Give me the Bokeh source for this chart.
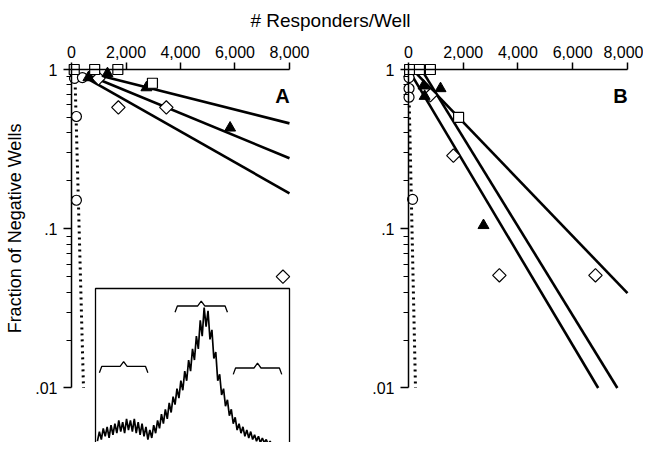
import numpy as np
from bokeh.plotting import figure
from bokeh.models import (Range1d, LinearScale, LinearAxis, LogAxis, FixedTicker,
                          NumeralTickFormatter, CustomJSTickFormatter, Label)
from bokeh.embed import file_html
from bokeh.resources import INLINE

# ---------------- data ----------------
x_ticks = [0, 2000, 4000, 6000, 8000]
y_major = [0.01, 0.1, 1.0]
y_minor = [0.02, 0.03, 0.04, 0.05, 0.06, 0.07, 0.08, 0.09,
           0.2, 0.3, 0.4, 0.5, 0.6, 0.7, 0.8, 0.9]

# Panel A
a_sq_x = [100, 850, 1700, 2970]
a_sq_y = [1.0, 1.0, 1.0, 0.82]
a_tri_x = [620, 1320, 2750, 5820]
a_tri_y = [0.89, 0.944, 0.77, 0.43]
a_dia_x = [990, 1720, 3480, 7760]
a_dia_y = [0.88, 0.578, 0.578, 0.050]
a_cir_x = [110, 400, 180, 180]
a_cir_y = [0.88, 0.89, 0.507, 0.151]
a_fit_x0 = [600, 600, 600]
a_fit_y0 = [0.959, 0.923, 0.874]
a_fit_x1 = [8000, 8000, 8000]
a_fit_y1 = [0.459, 0.277, 0.167]
a_dot_x = [120, 440]
a_dot_y = [1.0, 0.01]

# Panel B
b_sq_x = [40, 400, 800, 1830]
b_sq_y = [1.0, 1.0, 1.0, 0.50]
b_tri_x = [550, 590, 1170, 2740]
b_tri_y = [0.79, 0.68, 0.76, 0.105]
b_dia_x = [800, 1640, 3320, 6830]
b_dia_y = [0.69, 0.288, 0.051, 0.051]
b_cir_x = [20, 20, 20, 150]
b_cir_y = [0.89, 0.76, 0.67, 0.153]
b_fit_x0 = [275, 555, 77]
b_fit_y0 = [0.95, 0.95, 0.95]
b_fit_x1 = [8000, 7630, 6930]
b_fit_y1 = [0.0394, 0.01, 0.01]
b_dot_x = [0, 256]
b_dot_y = [1.0, 0.01]

# Inset (fluorescence histogram, channel 0-100, relative counts 0-100)
inset_channel = list(range(1, 95))
inset_counts = [4, 10, 5, 12, 7, 13, 6, 14, 8, 15, 9, 17, 10, 16, 9, 18, 11, 17, 10, 18,
                9, 16, 8, 15, 7, 13, 5, 11, 6, 14, 9, 17, 12, 21, 15, 24, 18, 28, 22, 32,
                27, 37, 31, 42, 36, 48, 42, 55, 48, 62, 55, 70, 62, 80, 70, 88, 76, 86, 68, 74,
                56, 60, 42, 46, 33, 37, 26, 30, 20, 24, 15, 19, 11, 15, 9, 13, 7, 11, 6, 10,
                5, 8, 4, 7, 3, 6, 3, 5, 2, 4, 1, 3, 1, 2]
br_left = [2, 41, 71]
br_right = [27, 68, 96]
br_end = [47, 85, 46]
br_line = [51, 89, 50]
br_peak = [54, 92, 53]

FONT = "Liberation Sans"

p = figure(width=643, height=442, output_backend="svg", toolbar_location=None,
           x_range=Range1d(-2606, 20992), y_range=Range1d(0.004547, 2.7127),
           y_axis_type="log", x_axis_location=None, y_axis_location=None,
           min_border=0, outline_line_color=None)
p.grid.visible = False
p.background_fill_color = "white"
p.border_fill_color = "white"

p.extra_x_ranges = {"B": Range1d(-14904, 8585), "ix": Range1d(-48.97, 282.47)}
p.extra_y_ranges = {"iy": Range1d(3.14, 281.13)}
p.extra_y_scales = {"iy": LinearScale()}

ytick_fmt = CustomJSTickFormatter(code="return tick >= 1 ? '1' : String(tick).replace(/^0/, '');")


def style(ax):
    ax.axis_line_color = "black"
    ax.axis_line_width = 1.5
    ax.major_tick_line_color = "black"
    ax.major_tick_line_width = 1.5
    ax.minor_tick_line_color = "black"
    ax.minor_tick_line_width = 1.2
    ax.major_tick_in = 0
    ax.minor_tick_in = 0
    ax.major_label_text_font = FONT
    ax.major_label_text_font_size = "16px"
    ax.major_label_text_color = "black"


for rng in ["default", "B"]:
    xa = LinearAxis(fixed_location=1.0, bounds=(0, 8000),
                    ticker=FixedTicker(ticks=x_ticks, minor_ticks=[]),
                    formatter=NumeralTickFormatter(format="0,0"))
    ya = LogAxis(fixed_location=0, bounds=(0.01, 1.0),
                 ticker=FixedTicker(ticks=y_major, minor_ticks=y_minor),
                 formatter=ytick_fmt)
    if rng == "B":
        xa.x_range_name = "B"
        ya.x_range_name = "B"
    style(xa)
    style(ya)
    xa.major_tick_out = 7
    xa.major_label_standoff = 5
    ya.major_tick_out = 8
    ya.minor_tick_out = 5
    ya.major_label_standoff = 6
    if rng == "default":
        ya.axis_label = "Fraction of Negative Wells"
        ya.axis_label_text_font = FONT
        ya.axis_label_text_font_size = "18px"
        ya.axis_label_text_font_style = "normal"
        ya.axis_label_text_color = "black"
        ya.axis_label_standoff = 7
    p.add_layout(xa, "above")
    p.add_layout(ya, "left")

# ---- inset ----
p.quad(left=[0], right=[100], bottom=[0], top=[100], x_range_name="ix", y_range_name="iy",
       fill_color="white", line_color="black", line_width=1.3)
p.line(inset_channel, inset_counts, x_range_name="ix", y_range_name="iy",
       line_color="black", line_width=1.7)
br_xs, br_ys = [], []
for l, r, e, ln, pk in zip(br_left, br_right, br_end, br_line, br_peak):
    m = (l + r) / 2
    br_xs.append([l, l + 1.2, m - 1.8, m, m + 1.8, r - 1.2, r])
    br_ys.append([e, ln, ln, pk, ln, ln, e])
p.multi_line(br_xs, br_ys, x_range_name="ix", y_range_name="iy",
             line_color="black", line_width=1.3)

# ---- panel glyphs ----
def panel(rname, dot_x, dot_y, fx0, fy0, fx1, fy1, sqx, sqy, trx, try_, dix, diy, cix, ciy):
    kw = {} if rname is None else {"x_range_name": rname}
    p.line(dot_x, dot_y, line_color="black", line_width=3, line_dash="2 4", **kw)
    p.segment(fx0, fy0, fx1, fy1, line_color="black", line_width=2.6, **kw)
    p.scatter(cix, ciy, marker="circle", size=10, fill_color="white",
              line_color="black", line_width=1.2, **kw)
    p.scatter(dix, diy, marker="square", angle=np.pi / 4, size=9.5, fill_color="white",
              line_color="black", line_width=1.2, **kw)
    p.scatter(trx, try_, marker="triangle", size=11, fill_color="black",
              line_color="black", line_width=1, **kw)
    p.scatter(sqx, sqy, marker="square", size=10, fill_color="white",
              line_color="black", line_width=1.2, **kw)


panel(None, a_dot_x, a_dot_y, a_fit_x0, a_fit_y0, a_fit_x1, a_fit_y1,
      a_sq_x, a_sq_y, a_tri_x, a_tri_y, a_dia_x, a_dia_y, a_cir_x, a_cir_y)
panel("B", b_dot_x, b_dot_y, b_fit_x0, b_fit_y0, b_fit_x1, b_fit_y1,
      b_sq_x, b_sq_y, b_tri_x, b_tri_y, b_dia_x, b_dia_y, b_cir_x, b_cir_y)

# ---- texts ----
p.add_layout(Label(x=9505, y=2.031, text="# Responders/Well", text_align="center",
                   text_baseline="middle", text_font=FONT, text_font_size="19px",
                   text_color="black"))
p.add_layout(Label(x=7744, y=0.677, text="A", text_align="center", text_baseline="middle",
                   text_font=FONT, text_font_size="20px", text_font_style="bold",
                   text_color="black"))
p.add_layout(Label(x=7744, y=0.677, x_range_name="B", text="B", text_align="center",
                   text_baseline="middle", text_font=FONT, text_font_size="20px",
                   text_font_style="bold", text_color="black"))

open("out.html", "w").write(file_html(p, INLINE))
